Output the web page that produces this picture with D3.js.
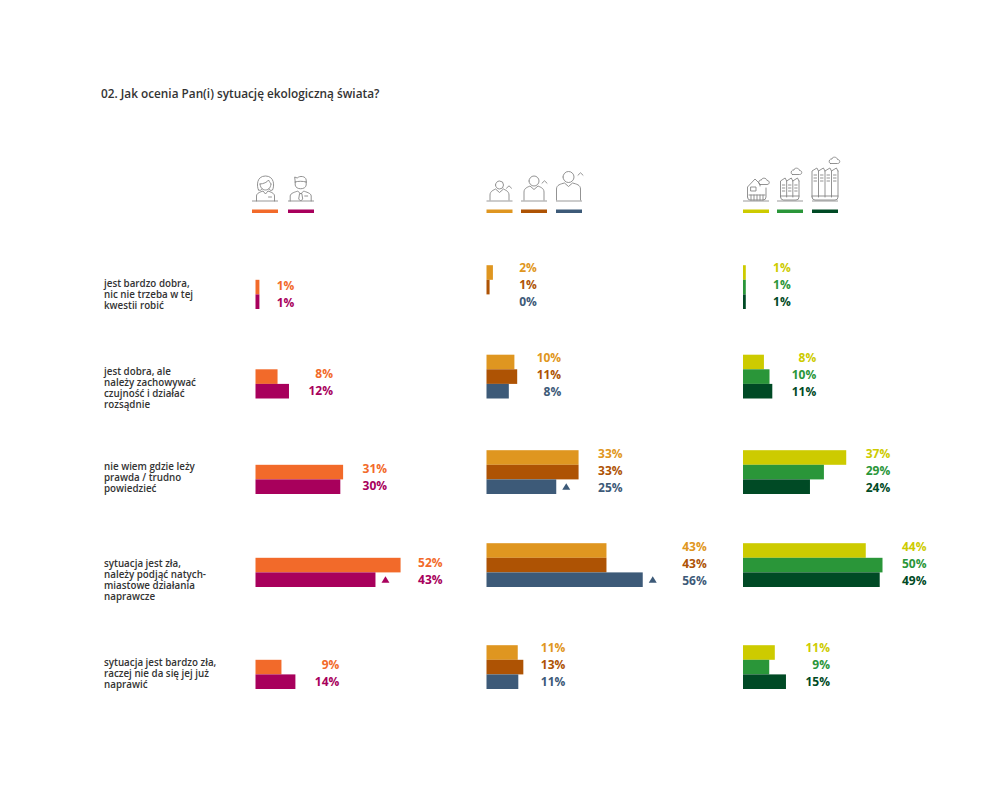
<!DOCTYPE html>
<html><head><meta charset="utf-8">
<script src="https://cdn.jsdelivr.net/npm/d3@7/dist/d3.min.js"></script>
<style>html,body{margin:0;background:#fff}svg{display:block}text{font-family:"Open Sans",sans-serif}</style>
</head><body><svg id="c" width="1000" height="787"></svg>
<script>
const title = "02. Jak ocenia Pan(i) sytuację ekologiczną świata?";
const categories = [
  ["jest bardzo dobra,","nic nie trzeba w tej","kwestii robić"],
  ["jest dobra, ale","należy zachowywać","czujność i działać","rozsądnie"],
  ["nie wiem gdzie leży","prawda / trudno","powiedzieć"],
  ["sytuacja jest zła,","należy podjąć natych-","miastowe działania","naprawcze"],
  ["sytuacja jest bardzo zła,","raczej nie da się jej już","naprawić"]
];
const female = [1.4, 7.9, 31.4, 52, 9.3];
const male = [1.4, 12, 30.4, 43, 14.3];
const ageYoung = [2.3, 10, 33, 43, 11.2];
const ageMiddle = [1.1, 11, 33, 43, 13.2];
const ageOld = [0, 8, 25, 56, 11.4];
const townSmall = [1, 7.5, 37, 44, 11.4];
const townMedium = [1, 9.5, 29, 50, 9.4];
const townLarge = [1, 10.5, 24, 49, 15.4];
const genderColors = ["#F26A2A", "#A8005C"];
const ageColors = ["#DF9620", "#AE5304", "#3D5A78"];
const townColors = ["#CDCB00", "#2A9639", "#004A25"];
// significance markers: [group, series, row]
const markers = [[0, 1, 3], [1, 2, 2], [1, 2, 3]];

const groups = [
  {x0: 255.5, series: [female, male], colors: genderColors, swatches: [252, 288], labelShift: [-9,0,0,-2,0], mid: [294.5, 382.5, 477.5, 571.5, 673.5]},
  {x0: 486.5, series: [ageYoung, ageMiddle, ageOld], colors: ageColors, swatches: [486.5, 521, 556], labelShift: [0,0,0,20,-2], mid: [285, 375, 471, 564, 665]},
  {x0: 743, series: [townSmall, townMedium, townLarge], colors: townColors, swatches: [743, 777, 812], labelShift: [1,0,0,0,0], mid: [285, 375, 471, 564, 665]}
];
const rowBottoms = [309, 398.5, 494, 587, 689];
const barH = 14.6, labelStep = 17, labelGap = 44;

const svg = d3.select("#c");
svg.append("text").attr("x", 101).attr("y", 97).attr("font-size", 11.8).attr("font-weight", 600)
  .attr("fill", "#333").attr("dy", 0.5).text(title);

categories.forEach((lines, r) => {
  const t = svg.append("text").attr("font-size", 9.8).attr("font-weight", 600).attr("fill", "#333");
  const y0 = [286.5, 374.5, 469.5, 566.5, 665.5][r];
  lines.forEach((l, i) => t.append("tspan").attr("x", 104).attr("y", y0 + i * 11.2).text(l));
});

const pct = d => d3.format(".0f")(d) + "%";
groups.forEach((g, gi) => {
  const x = d3.scaleLinear().domain([0, 100]).range([g.x0, g.x0 + 279]);
  const n = g.series.length;
  const yFor = r => d3.scaleBand().domain(d3.range(n)).range([rowBottoms[r] - n * barH, rowBottoms[r]]);
  categories.forEach((_, r) => {
    const y = yFor(r);
    const top = d3.max(g.series, s => s[r]);
    const lx = x(top) + labelGap + g.labelShift[r];
    g.series.forEach((s, i) => {
      if (s[r] > 0) svg.append("rect").attr("x", x(0)).attr("y", y(i))
        .attr("width", x(s[r]) - x(0)).attr("height", y.bandwidth()).attr("fill", g.colors[i]);
      const cy = g.mid[r] + (i - (n - 1) / 2) * labelStep;
      svg.append("text").attr("x", lx).attr("y", cy + 4.3).attr("text-anchor", "end")
        .attr("font-size", 12).attr("font-weight", 700).attr("fill", g.colors[i]).text(pct(s[r]));
    });
  });
  markers.filter(m => m[0] === gi).forEach(m => {
    const y = yFor(m[2]);
    const cx = x(g.series[m[1]][m[2]]) + 10;
    const cy = y(m[1]) + y.bandwidth() / 2;
    svg.append("path").attr("d", `M${cx},${cy-3.5}L${cx+4},${cy+3}L${cx-4},${cy+3}Z`).attr("fill", g.colors[m[1]]);
  });
  g.swatches.forEach((sx, i) => {
    svg.append("rect").attr("x", sx).attr("y", 209.5).attr("width", 26).attr("height", 3.5).attr("fill", g.colors[i]);
    svg.append("line").attr("x1", sx).attr("x2", sx + 26).attr("y1", 201).attr("y2", 201)
      .attr("stroke", "#999").attr("stroke-width", 1);
  });
});

// Pictograms
const ink = svg.append("g").attr("fill", "none").attr("stroke", "#808080").attr("stroke-width", 0.85)
  .attr("stroke-linejoin", "round").attr("stroke-linecap", "round");
const p = (tx, ty, d) => ink.append("path").attr("transform", `translate(${tx},${ty})`).attr("d", d);
// woman
p(265.5, 201, "M-7,-11 C-9,-15 -9,-25 0,-25 C9,-25 9,-15 7,-11 C5,-10 4,-11 3.5,-12 M-7,-11 C-5,-10 -4,-11 -3.5,-12 M-5.5,-17 C-2,-17 2,-19 3,-21 C4,-19 5,-18 5.5,-17 M-5.5,-17 C-5,-12 -2,-11 0,-11 C2,-11 5,-12 5.5,-17 M-9,0 V-5 C-9,-8 -5,-9 -2.5,-10 L0,-7 L2.5,-10 C5,-9 9,-8 9,-5 V0 M3,-4 H6");
// man
p(300.7, 201, "M-5.5,-19 L-6,-24 L-3.5,-23 C-1,-25.5 5,-25 5.5,-21 V-19 M-5.5,-19 C-3,-20 2,-20 5.5,-19 M-5.5,-19 V-16 C-5,-11 5,-11 5.5,-16 V-19 M-10.5,0 V-5 C-10.5,-8 -5,-9 -3,-10 L0,-7 L3,-10 C5,-9 10.5,-8 10.5,-5 V0 M-1.2,-7 L-2,-2 L0,0 L2,-2 L1.2,-7 Z M4,-5 H7");
// people with a chevron, three sizes
const person = (cx, r, headY, bodyY, hw, chX, chY) => {
  p(cx, 0, `M${-r},${headY} a${r},${r} 0 1,0 ${2*r},0 a${r},${r} 0 1,0 ${-2*r},0
    M${-hw},200 V${bodyY+5} C${-hw},${bodyY+1} ${-hw+4},${bodyY} -4,${bodyY-1} L0,${bodyY+2.5} L4,${bodyY-1} C${hw-4},${bodyY} ${hw},${bodyY+1} ${hw},${bodyY+5} V200`);
  p(chX, chY, "M-2.5,1.2 L0,-1.2 L2.5,1.2");
};
person(499.5, 4, 185, 190, 9.5, 509, 187);
person(534, 5, 181, 187, 10, 544.5, 182);
person(568.5, 5.5, 177, 184, 12, 580.5, 174);
// factories
const cloud = (x, y) => p(x, y, "M-3.5,2.5 H3.5 C6.5,2.5 6.5,-1.5 3.5,-1.5 C3,-4.5 -2,-4.5 -2,-2 C-5,-2.5 -6,2 -3.5,2.5 Z");
const factory = (x0, x1, top, bays, rows) => {
  const w = (x1 - x0) / bays, bot = 200;
  let d = `M${x0},${bot-3} V${top+3} `;
  for (let i = 0; i < bays; i++) {
    const xa = x0 + i * w;
    d += `L${xa + w * 0.75},${top} L${xa + w},${top+3} `;
    if (i < bays - 1) d += `V${bot-3} M${xa + w},${top+3} `;
    for (let k = 0; k < rows; k++) d += `M${xa+w*0.3},${top+7+k*3} h${w*0.4} `;
    d += `M${xa + w},${top+3} `;
  }
  d += `V${bot-3} Q${x1},${bot} ${x1-3},${bot} H${x0+3} Q${x0},${bot} ${x0},${bot-3} M${x0},${bot-4} H${x1}`;
  p(0, 0, d);
};
p(0, 0, "M747.5,197 V187 L755,179 L760,184 V186 M766,188 V197 Q766,200 763,200 H750 Q747.5,200 747.5,197 M751,187 h5 v4 h-5 Z M749,195 H765 M751,195 V200 M754,195 V200 M757,195 V200 M760,195 V200 M763,195 V200");
cloud(763.5, 182);
factory(780.5, 799, 178, 3, 3); cloud(796, 172);
factory(812, 838, 168, 4, 3); cloud(834, 161);
</script></body></html>
